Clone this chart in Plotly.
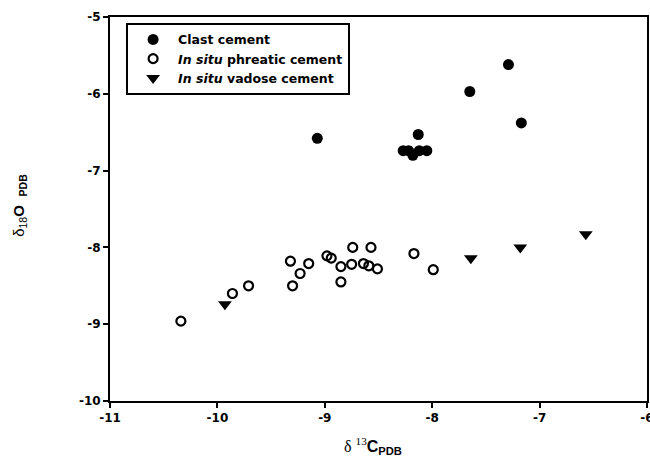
import plotly.graph_objects as go

# Clast cement (filled circles)
clast_x = [-9.07, -7.65, -7.29, -7.17, -8.13, -8.27, -8.22, -8.18, -8.12, -8.05]
clast_y = [-6.58, -5.97, -5.62, -6.38, -6.53, -6.74, -6.74, -6.80, -6.74, -6.74]

# In situ phreatic cement (open circles)
phreatic_x = [-10.34, -9.86, -9.71, -9.32, -9.30, -9.23, -9.15, -8.98, -8.94, -8.85,
              -8.85, -8.75, -8.74, -8.64, -8.59, -8.57, -8.51, -8.17, -7.99]
phreatic_y = [-8.96, -8.60, -8.50, -8.18, -8.50, -8.34, -8.21, -8.11, -8.14, -8.25,
              -8.45, -8.22, -8.00, -8.21, -8.24, -8.00, -8.28, -8.08, -8.29]

# In situ vadose cement (filled down triangles)
vadose_x = [-9.93, -7.64, -7.18, -6.57]
vadose_y = [-8.74, -8.14, -8.00, -7.83]

x_ticks = [-11, -10, -9, -8, -7, -6]
y_ticks = [-10, -9, -8, -7, -6, -5]

FONT = "DejaVu Sans, Liberation Sans, Arial, sans-serif"
SANS = "Liberation Sans, Arial, sans-serif"

fig = go.Figure()
fig.add_trace(go.Scatter(
    x=clast_x, y=clast_y, mode="markers", name="<b>Clast cement</b>",
    marker=dict(symbol="circle", size=11, color="black")))
fig.add_trace(go.Scatter(
    x=phreatic_x, y=phreatic_y, mode="markers",
    name="<b><i>In situ</i> phreatic cement</b>",
    marker=dict(symbol="circle-open", size=9, color="black", line=dict(width=2.2, color="black"))))
fig.add_trace(go.Scatter(
    x=vadose_x, y=vadose_y, mode="markers",
    name="<b><i>In situ</i> vadose cement</b>",
    marker=dict(symbol="triangle-down", size=12, color="black")))

axis_common = dict(
    showline=True, linecolor="black", linewidth=2, mirror=True,
    ticks="outside", ticklen=5, tickwidth=1.5, tickcolor="black",
    showgrid=False, zeroline=False, ticklabeloverflow="allow", automargin=False,
    tickfont=dict(family=FONT, size=12, color="black", weight="bold"),
)

fig.update_layout(
    width=650, height=470,
    margin=dict(l=110, r=3, t=17, b=69),
    paper_bgcolor="white", plot_bgcolor="white",
    font=dict(family=FONT, color="black"),
    showlegend=True,
    legend=dict(
        x=0.03, y=0.985, xanchor="left", yanchor="top",
        bordercolor="black", borderwidth=2, bgcolor="white",
        font=dict(family=FONT, size=12.5, color="black"),
        itemwidth=40, tracegroupgap=0,
    ),
    xaxis=dict(range=[-11, -6], tickvals=x_ticks, ticktext=[str(v) for v in x_ticks], **axis_common),
    yaxis=dict(range=[-10, -5], tickvals=y_ticks, ticktext=[str(v) for v in y_ticks], **axis_common),
    annotations=[
        dict(text="δ <sup>13</sup><span style='font-family:Liberation Sans, Arial'><b>C</b><sub><b>PDB</b></sub></span>",
             xref="paper", yref="paper", x=0.49, y=-0.117,
             xanchor="center", yanchor="middle", showarrow=False,
             font=dict(family="Liberation Serif, Times New Roman, serif", size=16, color="black")),
        dict(text="δ<sub>18</sub><b>O</b><sub><b>   PDB</b></sub>",
             xref="paper", yref="paper", x=-0.17, y=0.51,
             xanchor="center", yanchor="middle", showarrow=False, textangle=-90,
             font=dict(family=SANS, size=15, color="black")),
    ],
)

fig.write_html(
    "out.html",
    config={"displayModeBar": False},
    post_script="document.body.style.margin='0';document.body.style.overflow='hidden';",
)
